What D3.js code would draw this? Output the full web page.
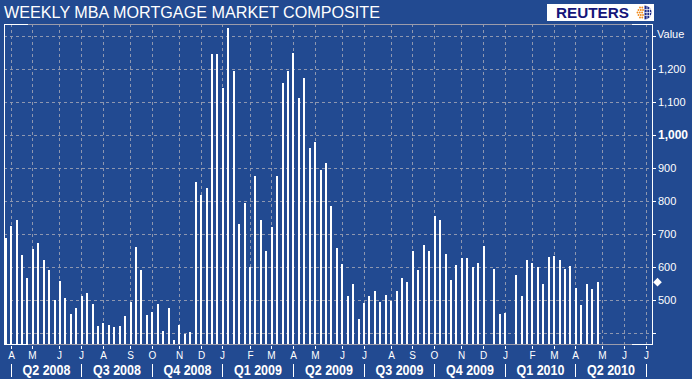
<!DOCTYPE html>
<html><head><meta charset="utf-8">
<script src="https://cdn.jsdelivr.net/npm/d3@7"></script>
<style>
html,body{margin:0;padding:0;background:#224a91;overflow:hidden}
svg{display:block}
text{font-family:"Liberation Sans",Arial,sans-serif;fill:#fff}
</style></head><body>
<svg id="c" width="692" height="379"></svg>
<script>
// ---------- data ----------
const title = "WEEKLY MBA MORTGAGE MARKET COMPOSITE";
const firstWeek = new Date(2008, 2, 28);   // first weekly observation (Friday)
const axisEndWeek = new Date(2010, 6, 9);  // last week shown on the axis
// weekly index values (null = no bar shown)
const values = [
  689,725,743,637,568,656,674,623,592,500,
  558,506,460,476,512,522,489,422,431,425,
  419,422,452,494,661,592,455,465,489,407,
  476,380,425,398,404,858,819,840,1246,1246,
  1143,1325,1195,731,795,601,877,743,649,722,
  877,1158,1195,1249,1113,1174,961,979,895,916,
  786,658,610,512,549,443,491,512,528,494,
  516,497,528,568,555,649,592,667,649,755,
  743,640,562,607,628,628,601,613,664,null,
  595,458,461,null,577,512,622,613,601,549,
  631,634,622,595,604,537,486,549,534,555
];
const yTicks = [400,500,600,700,800,900,1000,1100,1200,1300];
const yLabels = [500,600,700,800,900,1000,1100,1200];
const boldLabel = 1000;
const monthLetters = ["J","F","M","A","M","J","J","A","S","O","N","D"];

// ---------- layout ----------
const svg = d3.select("#c");
const L = 4, R = 652, T = 24, B = 344;
const gridCol = "#8e97b0", frameGray = "#9c9cab";

const weeks = d3.timeFriday.range(firstWeek, d3.timeDay.offset(axisEndWeek, 1));
const x = d3.scaleLinear().domain([-0.313, 119.03]).range([L, R]);
const y = d3.scaleLinear().domain([367.6, 1337.3]).range([B, T]);

// month starts (first week of each month)
const months = [];
weeks.forEach((d, i) => {
  if (i > 0 && d.getMonth() !== weeks[i-1].getMonth()) months.push({i, d});
});
const px = i => Math.floor(x(i)) + 0.5;

// title
svg.append("text").attr("x", 4).attr("y", 17.5)
  .attr("font-size", 16).attr("textLength", 376).attr("lengthAdjust", "spacingAndGlyphs")
  .text(title);

// Reuters logo
const logo = svg.append("g");
logo.append("rect").attr("x", 547).attr("y", 4).attr("width", 107).attr("height", 17).attr("fill", "#fff");
logo.append("text").attr("x", 556).attr("y", 17.6).attr("font-size", 15).attr("font-weight", "bold")
  .attr("textLength", 73).attr("lengthAdjust", "spacingAndGlyphs")
  .style("fill", "#15157a").text("REUTERS");
const dots = [[640,7.5],[642.3,7.5],[638.5,10],[640.8,10],[643,10],[637.5,12.5],[639.8,12.5],[642.1,12.5],
              [638.5,15],[640.8,15],[643,15],[640,17.5],[642.3,17.5]];
logo.selectAll("circle.d").data(dots).enter().append("circle")
  .attr("cx", d => d[0]).attr("cy", d => d[1]).attr("r", 0.95).attr("fill", "#f08a1c");
logo.append("path").attr("d", "M644.5,5.5A7,7 0 0 1 644.5,19.5Z").attr("fill", "#1c2a8a");
logo.append("path").attr("d", "M647,6V19M649.5,7.5V17.5M644.5,9.5H651M644.5,12.5H651.5M644.5,15.5H651")
  .attr("stroke", "#fff").attr("stroke-width", 0.7).attr("fill", "none");

// grid
const g = svg.append("g").attr("shape-rendering", "crispEdges");
g.selectAll("line.hg").data(yTicks).enter().append("line")
  .attr("x1", L).attr("x2", R)
  .attr("y1", d => Math.floor(y(d)) + 0.5).attr("y2", d => Math.floor(y(d)) + 0.5)
  .attr("stroke", gridCol).attr("stroke-dasharray", "3,3");
g.selectAll("line.vg").data(months).enter().append("line")
  .attr("x1", d => px(d.i)).attr("x2", d => px(d.i))
  .attr("y1", T).attr("y2", B)
  .attr("stroke", gridCol).attr("stroke-dasharray", "3,3");

// frame
g.append("line").attr("x1", L).attr("x2", R).attr("y1", T + 0.5).attr("y2", T + 0.5).attr("stroke", frameGray);
g.append("line").attr("x1", L).attr("x2", R).attr("y1", B + 0.5).attr("y2", B + 0.5).attr("stroke", frameGray);
g.append("path").attr("d", `M${L+24},${T+0.5}H${L+0.5}V${B+0.5}H${L+24}`)
  .attr("stroke", "#fff").attr("fill", "none");
g.append("path").attr("d", `M${R-20},${T+0.5}H${R+0.5}V${B+0.5}H${R-20}`)
  .attr("stroke", "#fff").attr("fill", "none");

// bars
const bars = values.map((v, i) => ({v, i})).filter(d => d.v !== null);
g.selectAll("rect.bar").data(bars).enter().append("rect")
  .attr("x", d => Math.round(x(d.i) - 1)).attr("width", 2)
  .attr("y", d => Math.round(y(d.v))).attr("height", d => B - Math.round(y(d.v)))
  .attr("fill", "#fff");

// right axis
g.selectAll("line.yt").data(yTicks).enter().append("line")
  .attr("x1", R).attr("x2", R + 4)
  .attr("y1", d => Math.floor(y(d)) + 0.5).attr("y2", d => Math.floor(y(d)) + 0.5)
  .attr("stroke", "#fff");
svg.selectAll("text.yl").data(yLabels).enter().append("text")
  .attr("x", 658).attr("y", d => y(d) + 4)
  .attr("font-size", d => d === boldLabel ? 12 : 11)
  .attr("font-weight", d => d === boldLabel ? "bold" : "normal")
  .text(d => d3.format(",")(d));
svg.append("text").attr("x", 657).attr("y", 38).attr("font-size", 11).text("Value");

// last value marker
const lastVal = values[values.length - 1];
svg.append("path").attr("transform", `translate(657.5,${y(lastVal)})`)
  .attr("d", "M0,-4.3L4.3,0L0,4.3L-4.3,0Z").attr("fill", "#fff");

// bottom month ticks + letters
g.selectAll("line.mt").data(months).enter().append("line")
  .attr("x1", d => px(d.i)).attr("x2", d => px(d.i))
  .attr("y1", B + 2).attr("y2", B + 5).attr("stroke", "#fff");
svg.selectAll("text.ml").data(months).enter().append("text")
  .attr("x", d => px(d.i)).attr("y", 358.5).attr("text-anchor", "middle")
  .attr("font-size", 10).text(d => monthLetters[d.d.getMonth()]);

// quarters
const qs = months.filter(m => m.d.getMonth() % 3 === 0);
g.selectAll("line.qs").data(qs).enter().append("line")
  .attr("x1", d => px(d.i)).attr("x2", d => px(d.i))
  .attr("y1", 364).attr("y2", 377).attr("stroke", "#fff");
const qLabels = qs.slice(0, -1).map((q, k) => ({
  cx: (px(q.i) + px(qs[k+1].i)) / 2,
  label: "Q" + (q.d.getMonth() / 3 + 1) + " " + q.d.getFullYear()
}));
svg.selectAll("text.ql").data(qLabels).enter().append("text")
  .attr("x", d => d.cx - 24).attr("y", 374.5)
  .attr("font-size", 14).attr("font-weight", "bold")
  .attr("textLength", 48).attr("lengthAdjust", "spacingAndGlyphs")
  .text(d => d.label);
</script>
</body></html>
